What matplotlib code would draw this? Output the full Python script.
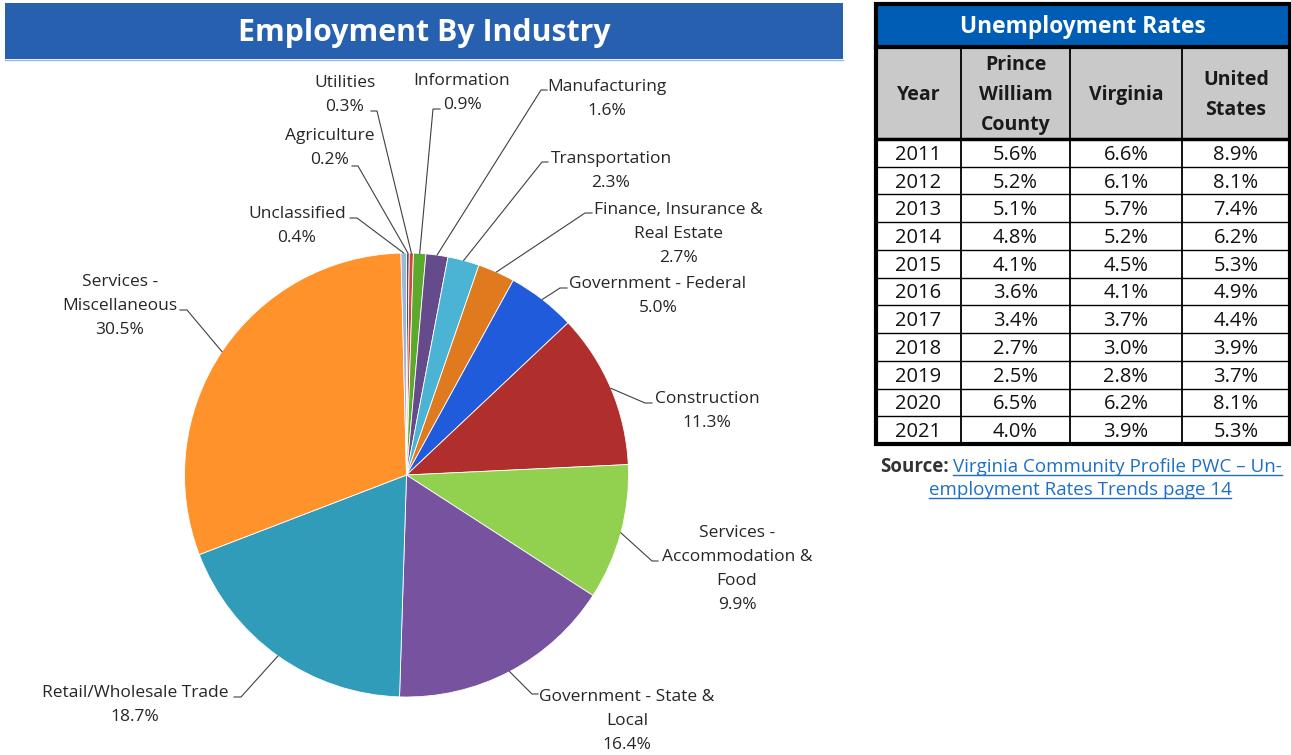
"""
Employment by industry pie + unemployment rate table.
"""

import numpy as np
import matplotlib.pyplot as plt
from matplotlib.patches import Rectangle

W, H = 1291, 755

# pie data (clockwise from 12 o'clock)
industries = [
    "Agriculture", "Utilities", "Information", "Manufacturing",
    "Transportation", "Finance, Insurance &\nReal Estate",
    "Government - Federal", "Construction",
    "Services -\nAccommodation &\nFood", "Government - State &\nLocal",
    "Retail/Wholesale Trade", "Services -\nMiscellaneous", "Unclassified",
]
shares = [0.2, 0.3, 0.9, 1.6, 2.3, 2.7, 5.0, 11.3, 9.9, 16.4, 18.7, 30.5, 0.4]
slice_colors = [
    "#44546A", "#D9413C", "#5BAA2E", "#654A8C", "#4BB4D4", "#E07A1F",
    "#1F5BDB", "#B02F2D", "#92D050", "#77529E", "#319BBA", "#FF922B",
    "#9DB7DC",
]

# label placement: first line centre, elbow of leader, end of short stub
label_pos = [
    (330, 136), (345, 83), (462, 81), (607, 87), (611, 159), (678, 210),
    (658, 284), (707, 399), (737, 533), (627, 697), (135, 693), (120, 282),
    (297, 214),
]
elbows = [
    (358, 166, 352), (377, 111, 371), (433, 109, 440), (541, 90, 547),
    (542, 162, 548), (585, 213, 592), (560, 288, 567), (645, 403, 652),
    (652, 561, 658), (532, 694, 538), (241, 697, 234), (187, 310, 180),
    (357, 218, 350),
]

# table data
years = [2011, 2012, 2013, 2014, 2015, 2016, 2017, 2018, 2019, 2020, 2021]
pwc = [5.6, 5.2, 5.1, 4.8, 4.1, 3.6, 3.4, 2.7, 2.5, 6.5, 4.0]
virginia = [6.6, 6.1, 5.7, 5.2, 4.5, 4.1, 3.7, 3.0, 2.8, 6.2, 3.9]
united_states = [8.9, 8.1, 7.4, 6.2, 5.3, 4.9, 4.4, 3.9, 3.7, 8.1, 5.3]
col_headers = ["Year", "Prince\nWilliam\nCounty", "Virginia", "United\nStates"]

FONT = "Open Sans"
TXT = "#262626"


def Y(y):
    # pixel row (from top) -> data y
    return H - y


fig = plt.figure(figsize=(W / 100, H / 100), dpi=100)
ax = fig.add_axes([0, 0, 1, 1])

# ---- title band
ax.add_patch(Rectangle((5, Y(59)), 838, 56, color="#2660AE", lw=0))
ax.plot([5, 843], [Y(60), Y(60)], color="#9DB6DA", lw=1)
ax.text(424, Y(33), "Employment By Industry", color="white",
        fontsize=21.8, fontweight="bold", family=FONT,
        ha="center", va="center")

# ---- pie
cx, cy, r = 406.5, Y(475), 222
wedges, _ = ax.pie(
    shares,
    colors=slice_colors,
    startangle=90,
    counterclock=False,
    center=(cx, cy),
    radius=r,
    wedgeprops=dict(edgecolor="white", linewidth=0.6),
    frame=True,
)
ax.set_xlim(0, W)
ax.set_ylim(0, H)
ax.set_aspect("equal")
ax.axis("off")

for i, w in enumerate(wedges):
    mid = np.deg2rad((w.theta1 + w.theta2) / 2)
    px, py = cx + r * np.cos(mid), cy + r * np.sin(mid)
    ex, ey, sx = elbows[i]
    ax.plot([px, ex, sx], [py, Y(ey), Y(ey)], color="#404040", lw=0.8)

    lines = industries[i].split("\n") + [f"{shares[i]:.1f}%"]
    lx, ly = label_pos[i]
    for k, line in enumerate(lines):
        ax.text(lx, Y(ly + 24 * k), line, fontsize=12.5, family=FONT,
                color=TXT, ha="center", va="center")

# ---- table
left, right = 876, 1290
col_x = [876, 961, 1070, 1182, 1290]
top, blue_bot, gray_bot = 4, 47, 139
row_h = (444 - gray_bot) / len(years)

ax.add_patch(Rectangle((left, Y(blue_bot)), right - left, blue_bot - top,
                       color="#005DB5", lw=0))
ax.add_patch(Rectangle((left, Y(gray_bot)), right - left, gray_bot - blue_bot,
                       color="#C9C9C9", lw=0))
ax.text((left + right) / 2, Y(27), "Unemployment Rates", color="white",
        fontsize=16.4, fontweight="bold", family=FONT,
        ha="center", va="center")

for j, head in enumerate(col_headers):
    xc = (col_x[j] + col_x[j + 1]) / 2
    parts = head.split("\n")
    y0 = 95 - 15 * (len(parts) - 1)
    for k, p in enumerate(parts):
        ax.text(xc, Y(y0 + 30 * k), p, fontsize=14, fontweight="bold",
                family=FONT, color="#1a1a1a", ha="center", va="center")

for i, yr in enumerate(years):
    yc = gray_bot + row_h * (i + 0.5) + 2
    vals = [str(yr), f"{pwc[i]:.1f}%", f"{virginia[i]:.1f}%",
            f"{united_states[i]:.1f}%"]
    for j, v in enumerate(vals):
        xc = (col_x[j] + col_x[j + 1]) / 2
        ax.text(xc, Y(yc), v, fontsize=14.5, family=FONT, color="#111111",
                ha="center", va="center")
    if i > 0:
        yl = gray_bot + row_h * i
        ax.plot([left, right], [Y(yl), Y(yl)], color="black", lw=1)

# vertical column rules
for x in col_x[1:-1]:
    ax.plot([x, x], [Y(blue_bot), Y(444)], color="black", lw=1.3)
# heavy rules
ax.plot([left, right], [Y(blue_bot), Y(blue_bot)], color="black", lw=3)
ax.plot([left, right], [Y(gray_bot), Y(gray_bot)], color="black", lw=2.5)
ax.add_patch(Rectangle((left, Y(444)), right - left, 444 - top,
                       fill=False, edgecolor="black", lw=3))

# ---- source note
link_color = "#1E6FC8"
ax.text(880, Y(472), "Source:", fontsize=13.5, fontweight="bold",
        family=FONT, color="#333333", ha="left", va="baseline")
link1 = ax.text(953, Y(472), "Virginia Community Profile PWC \u2013 Un-",
                fontsize=13.5, family=FONT, color=link_color,
                ha="left", va="baseline")
link2 = ax.text(1080, Y(495), "employment Rates Trends page 14",
                fontsize=13.5, family=FONT, color=link_color,
                ha="center", va="baseline")

fig.canvas.draw()
renderer = fig.canvas.get_renderer()
for t, base in [(link1, 472), (link2, 495)]:
    bb = t.get_window_extent(renderer)
    ax.plot([bb.x0, bb.x1], [Y(base + 3), Y(base + 3)], color=link_color,
            lw=1)

fig.savefig("out.png", dpi=100)
